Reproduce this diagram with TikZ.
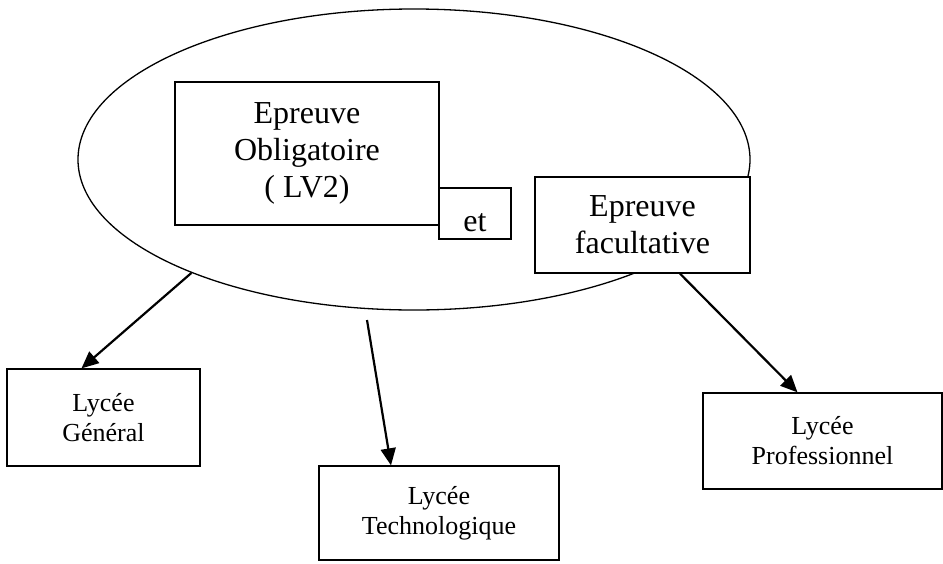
\documentclass[tikz,border=0pt]{standalone}
\usepackage{fontspec}
\setmainfont{Liberation Serif}
\usetikzlibrary{shapes.geometric,arrows.meta}
\begin{document}
\begin{tikzpicture}[x=1pt,y=-1pt,
    examring/.style={draw,ellipse,line width=1.3pt,inner sep=0pt},
    epreuvebox/.style={draw,fill=white,line width=1.3pt,align=center,inner sep=0pt,font=\fontsize{32}{37}\selectfont},
    lyceebox/.style={draw,fill=white,line width=1.3pt,align=center,inner sep=0pt,font=\fontsize{26}{30}\selectfont},
    link/.style={line width=2.2pt,-{Triangle[length=17pt,width=15pt]}}]
    \useasboundingbox (0,0) rectangle (943,563);

    % Ellipse holding the two exams
    \node[examring,minimum width=672pt,minimum height=301pt] (exam) at (414,159.5) {};

    % Exam boxes
    \node[epreuvebox,minimum width=264pt,minimum height=143pt] (oblig) at (307,153.5) {Epreuve\\Obligatoire\\( LV2)};
    \node[epreuvebox,minimum width=72pt,minimum height=51pt,text height=36pt] (et) at (475,213.5) {et};
    \node[epreuvebox,minimum width=215pt,minimum height=96pt] (facu) at (642.5,225) {Epreuve\\facultative};

    % School boxes
    \node[lyceebox,minimum width=193pt,minimum height=97pt] (gen) at (103.5,417.5) {Lycée\\Général};
    \node[lyceebox,minimum width=240pt,minimum height=94pt] (tech) at (439,513) {Lycée\\Technologique};
    \node[lyceebox,minimum width=239pt,minimum height=96pt] (prof) at (822.5,441) {Lycée\\Professionnel};

    % Arrows
    \coordinate (techstart) at (367,320);
    \draw[link] (exam.207.7) -- ([xshift=-22pt]gen.north);
    \draw[link] (techstart) -- ([xshift=-48pt]tech.north);
    \draw[link] ([xshift=37.5pt]facu.south) -- ([xshift=-25pt]prof.north);

\end{tikzpicture}
\end{document}
